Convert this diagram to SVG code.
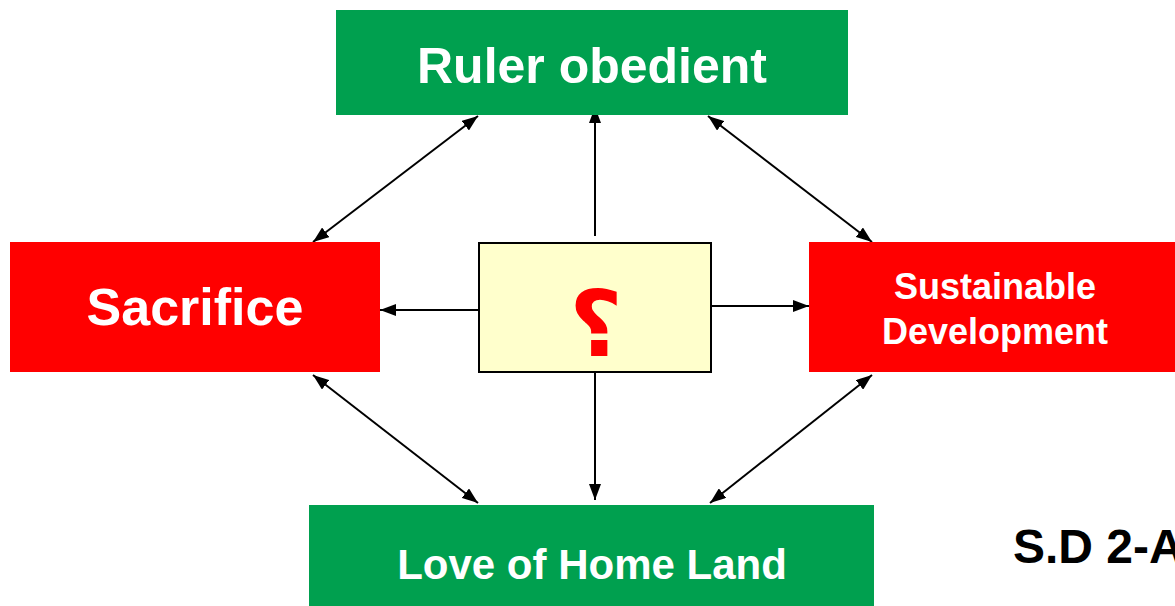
<svg xmlns="http://www.w3.org/2000/svg" width="1175" height="606" viewBox="0 0 1175 606">
<style>
.green{fill:#00A04F}
.red{fill:#FF0000}
.lbl{font-family:"Liberation Sans",Arial,sans-serif;font-weight:bold;fill:#FFFFFF;text-anchor:middle}
.conn{stroke:#000;stroke-width:2;fill:none}
</style>
<defs>
<marker id="a" viewBox="0 0 16 12" refX="16" refY="6" markerWidth="16" markerHeight="12" markerUnits="userSpaceOnUse" orient="auto-start-reverse">
<path d="M0,0 L16,6 L0,12 z" fill="#000"/>
</marker>
</defs>
<rect width="1175" height="606" fill="#FFFFFF"/>
<g id="connectors">
<line class="conn" x1="478" y1="116" x2="313" y2="242" marker-start="url(#a)" marker-end="url(#a)"/>
<line class="conn" x1="708" y1="116" x2="872" y2="242" marker-start="url(#a)" marker-end="url(#a)"/>
<line class="conn" x1="313" y1="375" x2="478" y2="503" marker-start="url(#a)" marker-end="url(#a)"/>
<line class="conn" x1="872" y1="375" x2="710" y2="503" marker-start="url(#a)" marker-end="url(#a)"/>
<line class="conn" x1="595" y1="236" x2="595" y2="107" marker-end="url(#a)"/>
<line class="conn" x1="479" y1="310" x2="380" y2="310" marker-end="url(#a)"/>
<line class="conn" x1="711" y1="306" x2="809" y2="306" marker-end="url(#a)"/>
<line class="conn" x1="595" y1="372" x2="595" y2="500" marker-end="url(#a)"/>
</g>
<g id="ruler">
<rect class="green" x="336" y="10" width="512" height="105"/>
<text class="lbl" x="592" y="83" font-size="50">Ruler obedient</text>
</g>
<g id="sacrifice">
<rect class="red" x="10" y="242" width="370" height="130"/>
<text class="lbl" x="195" y="325" font-size="52">Sacrifice</text>
</g>
<g id="center">
<rect x="479" y="243" width="232" height="129" fill="#FFFFCC" stroke="#000" stroke-width="2"/>
<text x="596" y="356" font-size="92" font-weight="bold" fill="#FF0000" text-anchor="middle" font-family="'DejaVu Sans',serif">؟</text>
</g>
<g id="sustainable">
<rect class="red" x="809" y="242" width="366" height="130"/>
<text class="lbl" x="995" y="299" font-size="36">Sustainable</text>
<text class="lbl" x="995" y="344" font-size="36">Development</text>
</g>
<g id="love">
<rect class="green" x="309" y="505" width="565" height="101"/>
<text class="lbl" x="592" y="579" font-size="42">Love of Home Land</text>
</g>
<g id="label">
<text x="1013" y="563" font-size="48" font-weight="bold" fill="#000" font-family="'Liberation Sans',Arial,sans-serif">S.D 2-A</text>
</g>
</svg>
